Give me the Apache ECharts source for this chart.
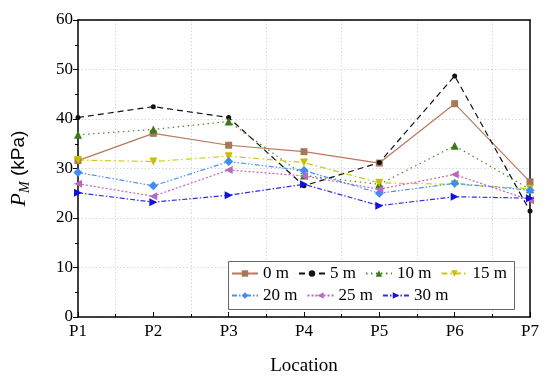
<!DOCTYPE html>
<html>
<head>
<meta charset="utf-8">
<script src="https://cdn.jsdelivr.net/npm/echarts@6/dist/echarts.min.js"></script>
<style>html,body{margin:0;padding:0;background:#fff}#c{width:550px;height:383px}</style>
</head>
<body>
<div id="c"></div>
<script>
const categories = ['P1','P2','P3','P4','P5','P6','P7'];
const yTicks = [0,10,20,30,40,50,60];
const seriesNames = ['0 m','5 m','10 m','15 m','20 m','25 m','30 m'];
const v0  = [31.6, 37.1, 34.7, 33.4, 31.1, 43.1, 27.3];
const v5  = [40.3, 42.5, 40.3, 26.5, 31.2, 48.7, 21.4];
const v10 = [36.8, 37.9, 39.5, 28.6, 26.8, 34.6, 25.8];
const v15 = [31.7, 31.4, 32.5, 31.2, 27.1, 26.8, 25.9];
const v20 = [29.2, 26.5, 31.4, 29.6, 25.0, 27.0, 25.6];
const v25 = [26.9, 24.4, 29.7, 28.5, 25.8, 28.8, 23.6];
const v30 = [25.1, 23.2, 24.6, 26.8, 22.5, 24.3, 24.0];
const allValues = [v0, v5, v10, v15, v20, v25, v30];

const FONT = "'Liberation Serif','Times New Roman',serif";
const styles = [
  {color:'#b8795c', mcolor:'#a5785a', type:'solid', symbol:'rect', size:7, rot:0},
  {color:'#111111', mcolor:'#111111', type:[6,4], symbol:'circle', size:5, rot:0},
  {color:'#3f8a22', mcolor:'#3a7a18', type:[1.5,3.5], symbol:'triangle', size:8, rot:0},
  {color:'#cccc10', mcolor:'#c8c000', type:[6,3,1.5,3], symbol:'triangle', size:8, rot:180},
  {color:'#4a90ee', mcolor:'#3f8cf5', type:[5,2,1.5,2,1.5,2], symbol:'diamond', size:9, rot:0},
  {color:'#c064c0', mcolor:'#b868c0', type:[2,2], symbol:'triangle', size:8, rot:90},
  {color:'#3030e0', mcolor:'#1010e0', type:[5,2,1.5,2], symbol:'triangle', size:8, rot:-90}
];

const series = seriesNames.map((n, k) => ({
  name: n,
  type: 'line',
  data: allValues[k].map((v, i) => [i, v]),
  symbol: styles[k].symbol,
  symbolSize: styles[k].size,
  symbolRotate: styles[k].rot,
  lineStyle: {color: styles[k].color, width: 1.2, type: styles[k].type},
  itemStyle: {color: styles[k].mcolor},
  emphasis: {disabled: true},
  animation: false
}));

const legendCommon = {
  orient: 'horizontal', left: 231, padding: 0,
  itemWidth: 26, itemHeight: 8, itemGap: 9,
  textStyle: {fontFamily: FONT, fontSize: 17, color: '#000'}
};

const chart = echarts.init(document.getElementById('c'), null, {renderer:'canvas'});
chart.setOption({
  animation: false,
  backgroundColor: '#fff',
  grid: {left: 75, right: 20, top: 20, bottom: 66},
  graphic: [{
    type: 'rect', z: 3, silent: true,
    shape: {x: 228.5, y: 261.5, width: 286, height: 48},
    style: {fill: '#fff', stroke: '#666', lineWidth: 1}
  }],
  xAxis: [{
    type: 'value', min: 0, max: categories.length - 1, interval: 1,
    name: 'Location', nameLocation: 'middle', nameGap: 40,
    nameTextStyle: {fontFamily: FONT, fontSize: 19, color: '#000'},
    axisLine: {show: true, lineStyle: {color: '#000', width: 1.5}},
    axisTick: {show: true, inside: true, length: 5, lineStyle: {color: '#000'}},
    minorTick: {show: true, splitNumber: 2, length: 3, lineStyle: {color: '#000'}},
    splitLine: {show: false},
    minorSplitLine: {show: true, lineStyle: {color: '#d8d8d8', type: [1.5, 2]}},
    axisLabel: {formatter: v => categories[v] || '', fontFamily: FONT, fontSize: 17, color: '#000', margin: 6}
  }, {
    type: 'value', position: 'top', min: 0, max: categories.length - 1, interval: 1,
    axisLine: {show: true, onZero: false, lineStyle: {color: '#000', width: 1.5}},
    axisTick: {show: false}, axisLabel: {show: false}, splitLine: {show: false}
  }],
  yAxis: [{
    type: 'value', min: yTicks[0], max: yTicks[yTicks.length-1], interval: 10,
    name: '{i|P}{s|M}{n| (kPa)}', nameLocation: 'middle', nameGap: 46,
    nameTextStyle: {
      rich: {
        i: {fontFamily: FONT, fontStyle: 'italic', fontSize: 22, color: '#000', lineHeight: 26},
        s: {fontFamily: FONT, fontStyle: 'italic', fontSize: 14, color: '#000', verticalAlign: 'bottom', lineHeight: 26, padding:[10,0,0,0]},
        n: {fontFamily: "Liberation Sans, Arial, sans-serif", fontSize: 19, color: '#000', lineHeight: 26}
      }
    },
    axisLine: {show: true, lineStyle: {color: '#000', width: 1.5}},
    axisTick: {show: true, inside: false, length: 5, lineStyle: {color: '#000'}},
    minorTick: {show: true, splitNumber: 2, length: 3, lineStyle: {color: '#000'}},
    splitLine: {show: true, lineStyle: {color: '#d8d8d8', type: [1.5, 2]}},
    axisLabel: {formatter: v => yTicks.includes(v) ? String(v) : '', fontFamily: FONT, fontSize: 17, color: '#000', margin: 5}
  }, {
    type: 'value', position: 'right', min: yTicks[0], max: yTicks[yTicks.length-1], interval: 10,
    axisLine: {show: true, onZero: false, lineStyle: {color: '#000', width: 1.5}},
    axisTick: {show: false}, axisLabel: {show: false}, splitLine: {show: false}
  }],
  legend: [
    Object.assign({}, legendCommon, {top: 265, data: seriesNames.slice(0, 4)}),
    Object.assign({}, legendCommon, {top: 287, data: seriesNames.slice(4)})
  ],
  series: series
});
</script>
</body>
</html>
